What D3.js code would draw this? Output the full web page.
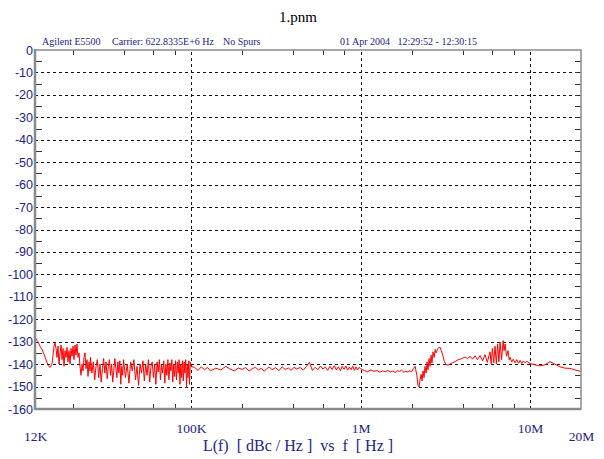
<!DOCTYPE html>
<html>
<head>
<meta charset="utf-8">
<script src="https://cdn.jsdelivr.net/npm/d3@7"></script>
<style>
  body { margin: 0; background: #fff; }
  svg { display: block; }
</style>
</head>
<body>
<div id="chart"></div>
<script>
// offset frequency [kHz], L(f) [dBc/Hz]
const closeIn = [
  [12.00,-128],[12.16,-128.5],[12.33,-129.5],[12.50,-130],[12.84,-132],[13.20,-133.5],[13.56,-135.5],
  [13.93,-138],[14.32,-140.5],[14.71,-141.5],[15.12,-140],[15.33,-136],[15.54,-132],[15.75,-130.5],
  [15.96,-133],[16.18,-137],[16.40,-132],[16.63,-140],[16.86,-135],[17.09,-131.5],[17.32,-138],
  [17.56,-133],[17.80,-141],[18.04,-134],[18.29,-137],[18.54,-132.5],[18.79,-139],[19.05,-134],
  [19.31,-140],[19.57,-133],[19.84,-136.5],[20.11,-132],[20.39,-138],[20.66,-131.5],[20.95,-136],
  [21.23,-131],[21.52,-137],[21.82,-135],[22.12,-141],[22.42,-145],[22.73,-140],[23.04,-143],
  [23.35,-137],[23.67,-135],[24.00,-142],[24.33,-138],[24.66,-145.5],[25.00,-139],[25.34,-143],
  [25.5,-137],[26,-144],[26.5,-139],[27,-147],[27.5,-141],[28,-138],[28.5,-146],[29,-140],
  [29.5,-148],[30,-142],[30.5,-137.5],[31,-144],[31.5,-139],[32,-146.5],[32.5,-141],[33,-138],
  [33.5,-145],[34,-140],[34.5,-148],[35,-143],[35.5,-137.5],[36,-142],[36.5,-146],[37,-139],
  [37.5,-144],[38,-138.5],[38.5,-149],[39,-141],[39.5,-145],[40,-138],
  [41,-146],[42,-140],[43,-148.5],[44,-139],[45,-143],[46,-138],[47,-147],[48,-141],[49,-149.5],
  [50,-140],[51,-144],[52,-138.5],[53,-147.5],[54,-140],[55,-145],[56,-138],[57,-148],[58,-141],
  [59,-139],[60,-146],[61,-140],[62,-149],[63,-139],[64,-143.5],[65,-138],[66,-147],[67,-140.5],
  [68,-144],[69,-138.5],[70,-148.5],[71,-140],[72,-145],[73,-138],[74,-147],[75,-139.5],[76,-143],
  [77,-138],[78,-148],[79,-140],[80,-145.5],[81,-138.5],[82,-147],[83,-139],[84,-144],[85,-138],
  [86,-149],[87,-140],[88,-146],[89,-138.5],[90,-147.5],[91,-139],[92,-144],[93,-138],[94,-150.5],
  [95,-140],[96,-146],[97,-138.5],[98,-149],[99,-139],[100,-141]
];

const midBand = [
  [105,-141.5],[110,-142.8],[115,-141.2],[120,-142.5],[125,-141.5],[130,-143],[140,-141.8],
  [150,-142.6],[160,-141],[170,-142.2],[180,-143],[190,-141.7],[200,-142.4],[210,-141.5],
  [220,-143.1],[230,-142],[240,-141.4],[250,-142.6],[260,-141.8],[270,-143.2],[280,-142],
  [290,-141.3],[300,-142.5],[315,-141.6],[330,-142.9],[345,-141.2],[360,-142.4],[375,-141.7],
  [390,-142.8],[405,-141.4],[420,-142.2],[440,-141.5],[460,-142.6],[480,-141],[500,-139.2],
  [520,-142.8],[540,-141.4],[560,-142.5],[580,-140.8],[600,-142.2],[620,-141.3],[640,-142.8],
  [660,-141],[680,-142.4],[700,-140.7],[720,-142.6],[740,-141.2],[760,-142.9],[780,-141],
  [800,-142.3],[820,-140.8],[840,-142.7],[860,-141.3],[880,-142.5],[900,-140.9],[920,-142.8],
  [940,-141.2],[960,-142.6],[980,-141.4],[1000,-142],
  [1050,-142.8],[1100,-143.4],[1150,-142.6],[1200,-143.2],[1250,-142.9],[1300,-143.6],[1350,-143],
  [1400,-143.4],[1450,-142.8],[1500,-143.5],[1550,-143.1],[1600,-143.7],[1650,-142.9],[1700,-143.3],
  [1750,-142.7],[1800,-143.6],[1850,-143.2],[1900,-143.5],[1950,-143],[2000,-143.4]
];

const farOut = [
  [2050,-142],[2100,-141],[2150,-145],[2185,-149.5],[2215,-150.2],[2245,-147],[2280,-144.5],
  [2307,-147.5],[2340,-143],[2370,-146],[2402,-141],[2440,-144],[2470,-139],[2502,-142.5],
  [2540,-137.5],[2571,-141],[2610,-136],[2640,-139.5],[2678,-134.5],[2720,-137],[2760,-133.5],
  [2789,-135],[2860,-133],[2945,-132.4],[3000,-134],[3068,-136.5],[3130,-139],[3195,-140.2],
  [3283,-140.5],[3400,-139.8],[3500,-139.4],[3610,-138.9],[3730,-138.2],[3865,-137.8],
  [4000,-137.4],[4138,-136.8],[4280,-137.6],[4430,-136.5],[4580,-137.8],[4740,-136.3],[4900,-138],
  [5080,-136.2],[5250,-138.6],[5430,-135.8],[5600,-139.2],[5810,-134.5],[5900,-139.8],[6000,-133],
  [6110,-139.5],[6220,-132],[6330,-140],[6440,-131],[6550,-139],[6660,-130.2],[6800,-138],
  [6940,-129.5],[7030,-134],[7130,-131],[7270,-136.5],[7420,-134],[7530,-138],[7630,-137],
  [7800,-139],[7950,-137.8],[8160,-139.4],[8350,-138],[8550,-139.6],[8740,-138.3],[8950,-139.7],
  [9150,-138.6],[9350,-139.4],[9600,-138.8],[10000,-139.7],[10700,-140.3],[11460,-140.8],
  [12260,-140.3],[13120,-138.9],[14050,-140],[15030,-141.2],[16090,-141.8],[17220,-141.9],
  [18430,-142.6],[20000,-143.3]
];

const yLabels = [0,-10,-20,-30,-40,-50,-60,-70,-80,-90,-100,-110,-120,-130,-140,-150,-160];
const yGrid = [-10,-20,-30,-40,-50,-60,-70,-80,-90,-100,-110,-120,-130,-140,-150];
const yMinor = [-5,-15,-25,-35,-45,-55,-65,-75,-85,-95,-105,-115,-125,-135,-145,-155];
const xLabelVals = [12e3, 1e5, 1e6, 1e7, 2e7];
const xLabels = ["12K", "100K", "1M", "10M", "20M"];
const xGrid = [1e5, 1e6, 1e7];
const xMinor = [2e4,4e4,6e4,8e4,2e5,4e5,6e5,8e5,2e6,4e6,6e6,8e6];
const headerTexts = [
  {text: "Agilent E5500", x: 42},
  {text: "Carrier: 622.8335E+6 Hz", x: 112},
  {text: "No Spurs", x: 223},
  {text: "01 Apr 2004   12:29:52 - 12:30:15", x: 340}
];

const width = 604, height = 459;
const plot = {left: 35, right: 581, top: 50, bottom: 409};
const navy = "#22228a";
const axisGray = "#8a8a8a";

const svg = d3.select("#chart").append("svg")
  .attr("width", width)
  .attr("height", height);

const x = d3.scaleLog().domain([12e3, 20e6]).range([plot.left, plot.right]);
const y = d3.scaleLinear().domain([-160, 0]).range([plot.bottom, plot.top]);

//Title
svg.append("text")
  .attr("x", 298).attr("y", 22)
  .attr("text-anchor", "middle")
  .style("font", "15px 'Liberation Serif', serif")
  .text("1.pnm");

//Header line
svg.append("g").selectAll("text")
  .data(headerTexts)
  .enter().append("text")
    .attr("x", d => d.x).attr("y", 45)
    .attr("fill", navy)
    .style("font", "10px 'Liberation Serif', serif")
    .style("white-space", "pre")
    .text(d => d.text);

//Dashed grid
const hGrid = svg.append("g")
  .attr("transform", `translate(${plot.left},0)`)
  .call(d3.axisLeft(y).tickValues(yGrid).tickSize(-(plot.right - plot.left)).tickFormat(""));
const vGrid = svg.append("g")
  .attr("transform", `translate(0,${plot.bottom})`)
  .call(d3.axisBottom(x).tickValues(xGrid).tickSize(-(plot.bottom - plot.top)).tickFormat(""));
[hGrid, vGrid].forEach(g => {
  g.select(".domain").remove();
  g.selectAll("line")
    .attr("stroke", "#111")
    .attr("stroke-dasharray", "3,3")
    .attr("shape-rendering", "crispEdges");
});

//Trace
const line = d3.line()
  .x(d => x(d[0] * 1e3))
  .y(d => y(d[1]));
svg.append("path")
  .datum(closeIn.concat(midBand, farOut))
  .attr("fill", "none")
  .attr("stroke", "#ff0000")
  .attr("stroke-width", 1)
  .attr("d", line);

//Minor ticks, all four sides
const tickGroups = [
  svg.append("g").attr("transform", `translate(${plot.left},0)`)
    .call(d3.axisRight(y).tickValues(yMinor).tickSize(7).tickFormat("")),
  svg.append("g").attr("transform", `translate(${plot.right},0)`)
    .call(d3.axisLeft(y).tickValues(yMinor.concat(yGrid)).tickSize(6).tickFormat("")),
  svg.append("g").attr("transform", `translate(0,${plot.top})`)
    .call(d3.axisBottom(x).tickValues(xMinor).tickSize(5).tickFormat("")),
  svg.append("g").attr("transform", `translate(0,${plot.bottom})`)
    .call(d3.axisTop(x).tickValues(xMinor).tickSize(5).tickFormat(""))
];
tickGroups.forEach(g => {
  g.select(".domain").remove();
  g.selectAll("line").attr("stroke", "#333").attr("shape-rendering", "crispEdges");
});

//Frame
svg.append("rect")
  .attr("x", plot.left).attr("y", plot.top)
  .attr("width", plot.right - plot.left).attr("height", plot.bottom - plot.top)
  .attr("fill", "none").attr("stroke", axisGray).attr("stroke-width", 1.5);
svg.append("line")
  .attr("x1", plot.left).attr("x2", plot.left).attr("y1", plot.top - 1).attr("y2", plot.bottom + 1)
  .attr("stroke", axisGray).attr("stroke-width", 2.5);
svg.append("line")
  .attr("x1", plot.left).attr("x2", plot.right).attr("y1", plot.bottom).attr("y2", plot.bottom)
  .attr("stroke", axisGray).attr("stroke-width", 2.5);

//Y labels
const yAxis = svg.append("g")
  .attr("transform", `translate(${plot.left - 2},0)`)
  .call(d3.axisLeft(y).tickValues(yLabels).tickSize(0).tickPadding(0).tickFormat(d => String(d)));
yAxis.select(".domain").remove();
yAxis.selectAll("text")
  .attr("fill", navy)
  .style("font", "12.5px 'Liberation Sans Narrow', 'Liberation Sans', sans-serif");

//X labels
const xAxis = svg.append("g")
  .attr("transform", `translate(0,${plot.bottom})`)
  .call(d3.axisBottom(x).tickValues(xLabelVals).tickSize(0).tickPadding(14)
    .tickFormat((d, i) => xLabels[i]));
xAxis.select(".domain").remove();
xAxis.selectAll("text")
  .attr("fill", navy)
  .attr("y", (d, i) => (i === 0 || i === xLabels.length - 1) ? 22 : 14)
  .style("font", "13.5px 'Liberation Serif', serif");

//X axis title
svg.append("text")
  .attr("x", 298).attr("y", 451)
  .attr("text-anchor", "middle")
  .attr("fill", navy)
  .style("font", "16px 'Liberation Serif', serif")
  .style("white-space", "pre")
  .text("L(f)  [ dBc / Hz ]  vs  f  [ Hz ]");
</script>
</body>
</html>
